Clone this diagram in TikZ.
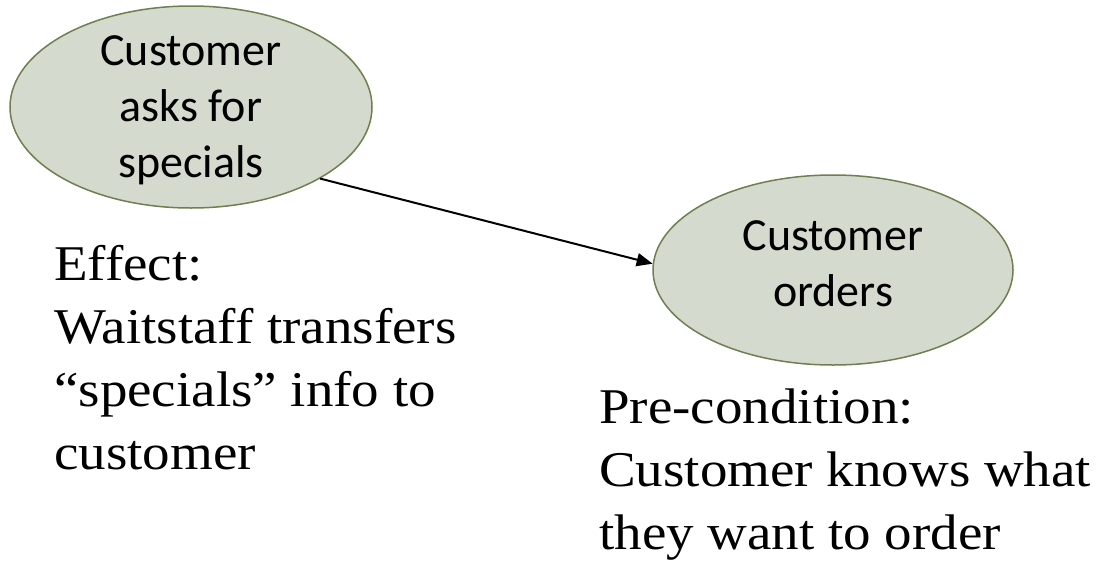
\documentclass[tikz,border=0pt]{standalone}
\usepackage{fontspec}
\usetikzlibrary{shapes.geometric,arrows.meta}
\newfontfamily\bubblefont{Carlito}
\newfontfamily\notefont[FakeStretch=1.1]{Liberation Serif}
\definecolor{bubblefill}{RGB}{212,218,206}
\definecolor{bubbleline}{RGB}{110,127,80}
\tikzset{
  bubble/.style={ellipse, draw=bubbleline, fill=bubblefill, line width=1.5pt, inner sep=0pt},
  bubbletext/.style={anchor=north, align=center, inner sep=0pt, font=\bubblefont\fontsize{46}{56}\selectfont},
  notetext/.style={anchor=north west, align=left, inner sep=0pt, font=\notefont\fontsize{50}{63}\selectfont},
  flow/.style={line width=2pt, -{Triangle[length=16pt,width=13pt]}}
}
\begin{document}
\begin{tikzpicture}[x=1pt,y=-1pt]
\useasboundingbox (0,0) rectangle (1107,565);
\node[bubble, minimum width=362pt, minimum height=202pt] (e1) at (191,107) {};
\node[bubble, minimum width=360pt, minimum height=190pt] (e2) at (833,270) {};
\node[bubbletext] (t1) at (191,25) {\rule{0pt}{40pt}Customer\\asks for\\specials};
\node[bubbletext] (t2) at (833,210) {\rule{0pt}{40pt}Customer\\orders};
\node[notetext] (n1) at (54,235) {\rule{0pt}{45pt}Effect:\\Waitstaff transfers\\“specials” info to\\customer};
\node[notetext] (n2) at (599,378) {\rule{0pt}{45pt}Pre-condition:\\Customer knows what\\they want to order};
\draw[flow] (e1.-29) -- (e2.178);
\end{tikzpicture}
\end{document}
